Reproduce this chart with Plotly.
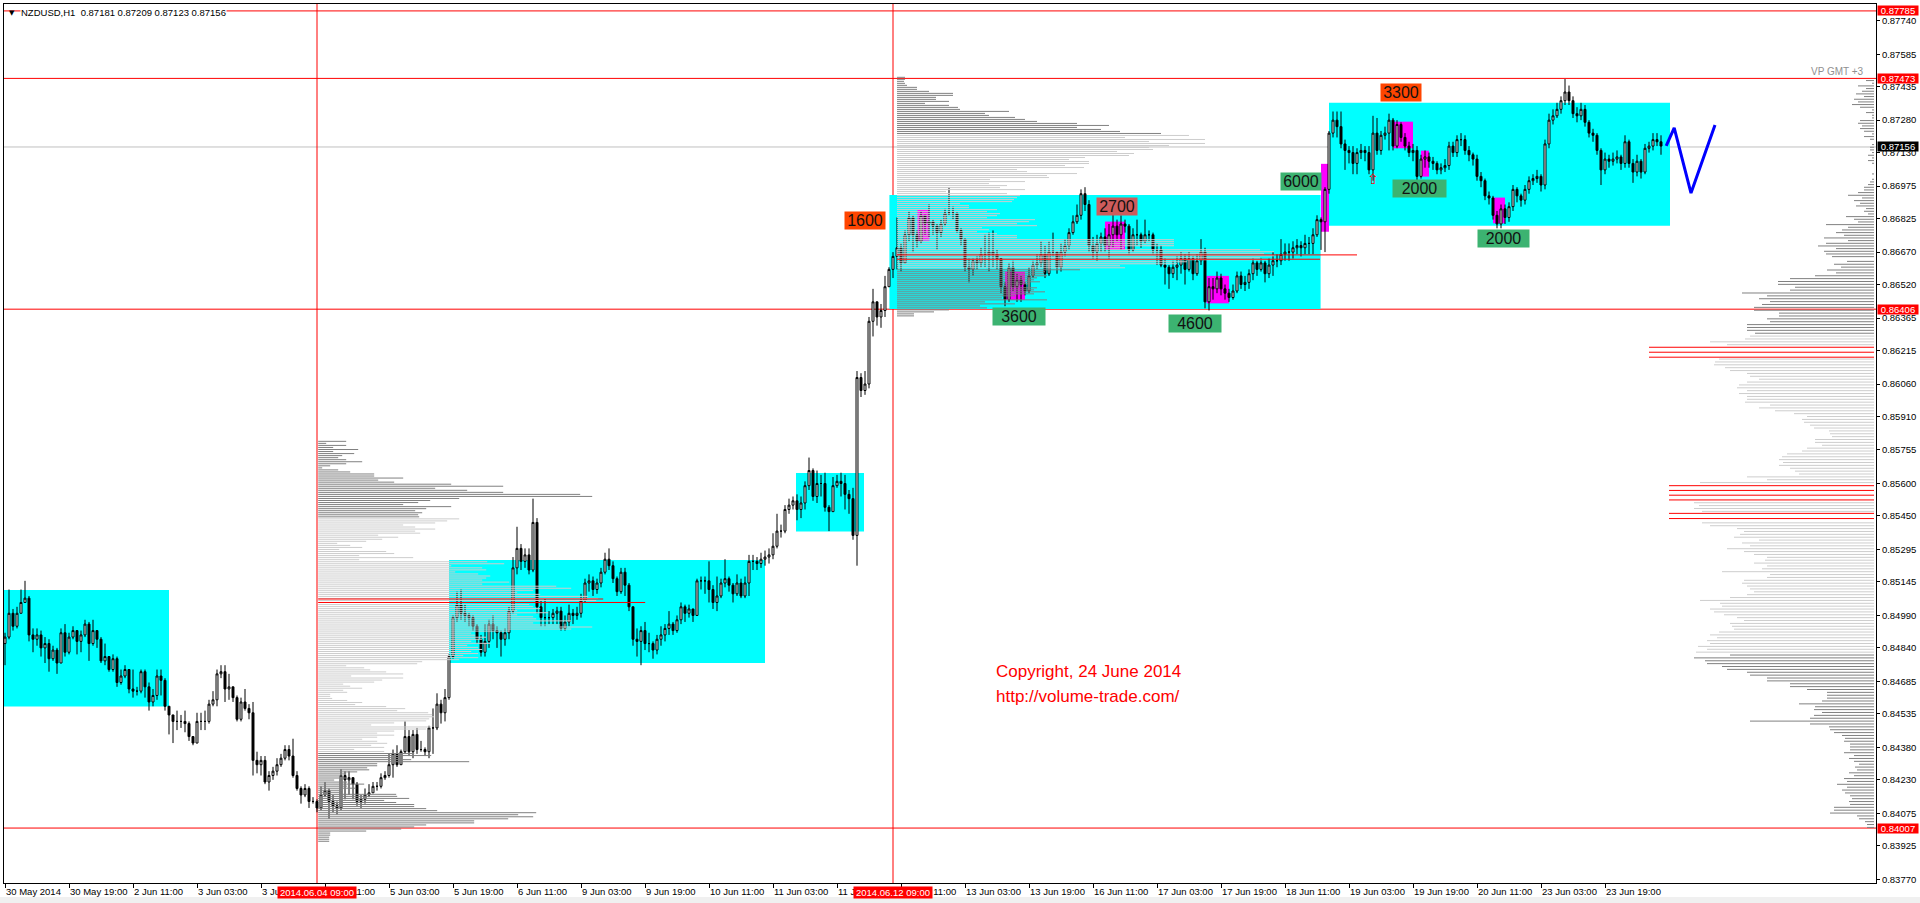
import numpy as np
import plotly.graph_objects as go

# NZDUSD H1 bars, prices in pips (1 pip = 0.0001); open of a bar = close of the previous one
first_open = 8486
close_pips = [
    8489, 8500, 8494, 8500, 8505, 8507, 8490, 8488, 8490, 8484,
    8486, 8479, 8483, 8477, 8491, 8482, 8489, 8492, 8487, 8490,
    8495, 8486, 8492, 8488, 8478, 8480, 8474, 8479, 8468, 8471,
    8474, 8465, 8464, 8464, 8473, 8466, 8459, 8462, 8471, 8469,
    8457, 8453, 8450, 8450, 8450, 8449, 8443, 8440, 8450, 8450,
    8450, 8458, 8460, 8472, 8473, 8465, 8466, 8461, 8451, 8459,
    8456, 8454, 8432, 8430, 8432, 8422, 8425, 8427, 8430, 8433,
    8437, 8434, 8425, 8419, 8416, 8419, 8413, 8413, 8410, 8416,
    8418, 8413, 8411, 8410, 8425, 8423, 8424, 8421, 8413, 8414,
    8416, 8417, 8420, 8420, 8424, 8425, 8430, 8435, 8430, 8436,
    8443, 8436, 8444, 8437, 8437, 8436, 8447, 8447, 8458, 8454,
    8461, 8480, 8498, 8504, 8500, 8499, 8498, 8494, 8488, 8482,
    8487, 8495, 8492, 8491, 8488, 8491, 8501, 8521, 8530, 8524,
    8527, 8520, 8542, 8503, 8498, 8498, 8498, 8500, 8501, 8493,
    8496, 8500, 8499, 8500, 8506, 8514, 8515, 8511, 8514, 8519,
    8525, 8522, 8516, 8510, 8519, 8513, 8503, 8488, 8487, 8492,
    8486, 8486, 8483, 8488, 8490, 8493, 8495, 8492, 8497, 8503,
    8500, 8502, 8499, 8515, 8515, 8515, 8511, 8505, 8508, 8514,
    8516, 8513, 8509, 8514, 8508, 8514, 8524, 8524, 8523, 8525,
    8526, 8527, 8531, 8538, 8538, 8548, 8550, 8552, 8548, 8551,
    8559, 8566, 8554, 8560, 8560, 8549, 8547, 8559, 8561, 8560,
    8555, 8553, 8536, 8609, 8603, 8606, 8635, 8644, 8637, 8640,
    8651, 8659, 8665, 8669, 8662, 8675, 8683, 8675, 8672, 8684,
    8680, 8681, 8679, 8676, 8680, 8685, 8685, 8685, 8677, 8673,
    8660, 8659, 8663, 8662, 8666, 8666, 8667, 8666, 8664, 8651,
    8645, 8660, 8651, 8654, 8652, 8649, 8656, 8661, 8662, 8666,
    8657, 8667, 8667, 8660, 8667, 8670, 8676, 8681, 8684, 8694,
    8689, 8670, 8667, 8671, 8674, 8670, 8675, 8679, 8675, 8680,
    8679, 8668, 8675, 8675, 8672, 8675, 8675, 8668, 8668, 8661,
    8660, 8657, 8660, 8661, 8664, 8659, 8664, 8657, 8663, 8667,
    8644, 8651, 8650, 8655, 8650, 8648, 8646, 8649, 8656, 8652,
    8653, 8657, 8662, 8659, 8662, 8657, 8661, 8663, 8663, 8666,
    8667, 8667, 8669, 8670, 8669, 8671, 8671, 8675, 8682, 8681,
    8696, 8722, 8728, 8725, 8717, 8714, 8713, 8708, 8713, 8714,
    8713, 8705, 8722, 8714, 8721, 8722, 8728, 8716, 8726, 8720,
    8716, 8713, 8714, 8702, 8710, 8711, 8709, 8708, 8705, 8706,
    8707, 8716, 8713, 8719, 8719, 8714, 8712, 8710, 8702, 8700,
    8693, 8692, 8684, 8680, 8687, 8683, 8688, 8696, 8693, 8691,
    8696, 8700, 8701, 8702, 8698, 8717, 8728, 8730, 8733, 8737,
    8741, 8737, 8731, 8730, 8733, 8727, 8722, 8721, 8714, 8705,
    8710, 8709, 8710, 8711, 8708, 8718, 8708, 8704, 8709, 8704,
    8715, 8716, 8719, 8718, 8716,
]
high_pips = [
    8491, 8511, 8502, 8503, 8511, 8515, 8508, 8493, 8493, 8492,
    8489, 8488, 8485, 8484, 8493, 8495, 8491, 8494, 8492, 8492,
    8497, 8496, 8497, 8492, 8489, 8486, 8480, 8481, 8480, 8474,
    8476, 8474, 8474, 8466, 8474, 8474, 8468, 8465, 8474, 8474,
    8470, 8457, 8453, 8455, 8453, 8455, 8450, 8443, 8454, 8454,
    8455, 8460, 8464, 8474, 8476, 8476, 8472, 8466, 8462, 8461,
    8465, 8458, 8459, 8436, 8434, 8434, 8427, 8429, 8433, 8435,
    8439, 8439, 8442, 8427, 8420, 8421, 8420, 8415, 8414, 8420,
    8422, 8419, 8416, 8413, 8428, 8427, 8427, 8424, 8422, 8416,
    8419, 8421, 8422, 8422, 8426, 8427, 8435, 8437, 8439, 8437,
    8450, 8446, 8446, 8447, 8441, 8438, 8448, 8456, 8463, 8460,
    8465, 8481, 8499, 8510, 8511, 8504, 8500, 8499, 8495, 8490,
    8495, 8497, 8499, 8494, 8492, 8493, 8503, 8526, 8540, 8532,
    8530, 8530, 8553, 8544, 8506, 8507, 8501, 8502, 8503, 8503,
    8499, 8504, 8502, 8503, 8509, 8516, 8518, 8517, 8516, 8521,
    8528, 8530, 8524, 8517, 8521, 8521, 8514, 8503, 8493, 8494,
    8496, 8491, 8487, 8490, 8494, 8495, 8501, 8496, 8499, 8505,
    8504, 8504, 8502, 8516, 8517, 8517, 8524, 8513, 8517, 8516,
    8525, 8517, 8514, 8518, 8516, 8517, 8527, 8527, 8526, 8528,
    8529, 8530, 8537, 8546, 8541, 8550, 8553, 8554, 8555, 8554,
    8561, 8572, 8567, 8566, 8564, 8565, 8550, 8563, 8564, 8565,
    8564, 8557, 8558, 8612, 8611, 8612, 8637, 8650, 8644, 8643,
    8656, 8660, 8667, 8683, 8671, 8677, 8686, 8684, 8677, 8686,
    8684, 8689, 8682, 8680, 8682, 8687, 8697, 8688, 8685, 8678,
    8673, 8664, 8664, 8665, 8669, 8675, 8676, 8677, 8668, 8664,
    8653, 8662, 8663, 8657, 8656, 8653, 8660, 8663, 8666, 8672,
    8670, 8672, 8676, 8667, 8671, 8673, 8678, 8684, 8689, 8696,
    8697, 8691, 8674, 8675, 8676, 8678, 8680, 8690, 8682, 8684,
    8682, 8680, 8678, 8682, 8676, 8682, 8677, 8676, 8671, 8670,
    8664, 8661, 8663, 8665, 8667, 8666, 8667, 8665, 8666, 8673,
    8669, 8655, 8655, 8658, 8657, 8652, 8650, 8652, 8658, 8658,
    8656, 8659, 8664, 8663, 8664, 8663, 8664, 8667, 8666, 8673,
    8671, 8671, 8672, 8673, 8672, 8675, 8674, 8678, 8684, 8683,
    8697, 8723, 8732, 8732, 8732, 8719, 8716, 8716, 8715, 8717,
    8716, 8716, 8730, 8729, 8723, 8725, 8731, 8729, 8728, 8727,
    8722, 8718, 8717, 8716, 8712, 8714, 8713, 8711, 8709, 8708,
    8710, 8718, 8718, 8721, 8722, 8721, 8716, 8713, 8712, 8704,
    8701, 8695, 8693, 8686, 8689, 8689, 8690, 8698, 8697, 8694,
    8698, 8702, 8703, 8705, 8703, 8719, 8731, 8733, 8736, 8739,
    8747, 8744, 8739, 8734, 8736, 8735, 8728, 8724, 8722, 8715,
    8713, 8712, 8713, 8714, 8712, 8721, 8719, 8710, 8712, 8710,
    8717, 8718, 8722, 8722, 8721,
]
low_pips = [
    8476, 8488, 8492, 8493, 8500, 8505, 8487, 8482, 8485, 8480,
    8477, 8473, 8478, 8472, 8477, 8480, 8481, 8488, 8481, 8482,
    8489, 8478, 8485, 8484, 8477, 8476, 8473, 8473, 8466, 8467,
    8470, 8463, 8461, 8462, 8463, 8461, 8455, 8457, 8460, 8462,
    8455, 8444, 8440, 8446, 8447, 8445, 8441, 8439, 8440, 8446,
    8446, 8449, 8457, 8457, 8470, 8459, 8460, 8459, 8450, 8450,
    8455, 8451, 8425, 8426, 8425, 8421, 8418, 8423, 8425, 8429,
    8432, 8432, 8424, 8418, 8412, 8415, 8410, 8412, 8408, 8409,
    8415, 8405, 8408, 8407, 8409, 8414, 8416, 8414, 8411, 8410,
    8412, 8415, 8417, 8418, 8419, 8423, 8424, 8424, 8429, 8430,
    8435, 8434, 8433, 8435, 8436, 8434, 8433, 8435, 8446, 8449,
    8450, 8460, 8479, 8496, 8497, 8496, 8494, 8492, 8486, 8480,
    8480, 8484, 8488, 8484, 8480, 8485, 8488, 8500, 8518, 8520,
    8521, 8518, 8519, 8500, 8494, 8494, 8495, 8495, 8495, 8492,
    8492, 8494, 8495, 8497, 8498, 8505, 8510, 8508, 8509, 8512,
    8518, 8520, 8514, 8508, 8509, 8508, 8501, 8485, 8480, 8476,
    8483, 8482, 8479, 8481, 8485, 8487, 8490, 8490, 8491, 8495,
    8496, 8498, 8496, 8499, 8511, 8509, 8505, 8502, 8501, 8507,
    8512, 8510, 8505, 8508, 8507, 8507, 8508, 8520, 8520, 8521,
    8522, 8523, 8525, 8530, 8535, 8537, 8546, 8548, 8543, 8544,
    8548, 8557, 8552, 8551, 8554, 8547, 8538, 8547, 8558, 8554,
    8548, 8546, 8534, 8522, 8600, 8601, 8604, 8628, 8633, 8632,
    8637, 8651, 8655, 8659, 8658, 8662, 8672, 8667, 8669, 8671,
    8675, 8674, 8675, 8668, 8674, 8679, 8684, 8682, 8676, 8670,
    8658, 8653, 8656, 8659, 8660, 8660, 8658, 8660, 8659, 8648,
    8642, 8644, 8649, 8644, 8644, 8647, 8648, 8655, 8659, 8660,
    8655, 8656, 8665, 8657, 8658, 8665, 8668, 8675, 8680, 8682,
    8686, 8667, 8664, 8663, 8667, 8667, 8664, 8669, 8672, 8668,
    8676, 8666, 8667, 8670, 8669, 8671, 8672, 8666, 8661, 8660,
    8652, 8650, 8655, 8654, 8657, 8652, 8658, 8654, 8656, 8661,
    8641, 8640, 8645, 8648, 8647, 8645, 8644, 8645, 8648, 8650,
    8649, 8650, 8654, 8656, 8658, 8653, 8655, 8656, 8660, 8661,
    8663, 8663, 8664, 8666, 8665, 8666, 8666, 8666, 8674, 8668,
    8667, 8694, 8720, 8720, 8715, 8705, 8708, 8703, 8703, 8710,
    8709, 8703, 8700, 8712, 8712, 8719, 8714, 8714, 8715, 8718,
    8714, 8711, 8709, 8700, 8701, 8706, 8706, 8705, 8703, 8703,
    8704, 8705, 8711, 8711, 8716, 8712, 8709, 8707, 8700, 8697,
    8691, 8689, 8682, 8678, 8678, 8680, 8681, 8686, 8690, 8688,
    8689, 8694, 8698, 8699, 8695, 8696, 8715, 8726, 8729, 8731,
    8735, 8735, 8729, 8727, 8728, 8725, 8720, 8718, 8712, 8698,
    8703, 8706, 8707, 8708, 8705, 8706, 8706, 8699, 8702, 8701,
    8703, 8713, 8714, 8716, 8712,
]

# time axis labels, one every 16 bars
time_labels = [
    "30 May 2014", "30 May 19:00", "2 Jun 11:00", "3 Jun 03:00", "3 Jun 19:00",
    "4 Jun 11:00", "5 Jun 03:00", "5 Jun 19:00", "6 Jun 11:00", "9 Jun 03:00",
    "9 Jun 19:00", "10 Jun 11:00", "11 Jun 03:00", "11 Jun 19:00", "12 Jun 11:00",
    "13 Jun 03:00", "13 Jun 19:00", "16 Jun 11:00", "17 Jun 03:00", "17 Jun 19:00",
    "18 Jun 11:00", "19 Jun 03:00", "19 Jun 19:00", "20 Jun 11:00", "23 Jun 03:00",
    "23 Jun 19:00",
]
price_ticks = [
    0.87740, 0.87585, 0.87435, 0.87280, 0.87130, 0.86975, 0.86825, 0.86670, 0.86520,
    0.86365, 0.86215, 0.86060, 0.85910, 0.85755, 0.85600, 0.85450, 0.85295, 0.85145,
    0.84990, 0.84840, 0.84685, 0.84535, 0.84380, 0.84230, 0.84075, 0.83925, 0.83770,
]

# horizontal / vertical levels
red_levels = [0.87785, 0.87473, 0.86406, 0.84007]
bid_price = 0.87156
vline_bars = [78, 222]
vline_labels = ["2014.06.04 09:00", "2014.06.12 09:00"]

# cyan zones: bar from, bar to, price low, price high
zone_bar0 = [-0.25, 111, 197.75, 221.1, 331]
zone_bar1 = [41, 190, 214.75, 328.9, 416.25]
zone_lo = [0.84569, 0.84770, 0.85378, 0.86407, 0.86792]
zone_hi = [0.85108, 0.85246, 0.85649, 0.86934, 0.87361]

# magenta volume spots
spot_bar0 = [228.1, 250, 275, 300.4, 329, 347.1, 354, 372]
spot_bar1 = [231.1, 255, 280, 306, 331, 352, 356, 375]
spot_lo = [0.86723, 0.86449, 0.86680, 0.86433, 0.86764, 0.87150, 0.87019, 0.86803]
spot_hi = [0.86865, 0.86579, 0.86811, 0.86560, 0.87078, 0.87273, 0.87139, 0.86922]

# volume labels
vol_text = ["1600", "2700", "3600", "4600", "6000", "3300", "2000", "2000"]
vol_bar = [215, 278, 253.5, 297.5, 324, 349, 353.6, 374.6]
vol_price = [0.86816, 0.86879, 0.86370, 0.86338, 0.86997, 0.87408, 0.86964, 0.86733]
vol_color = ["#ff4500", "#cd5c5c", "#3cb371", "#3cb371", "#3cb371", "#ff4500", "#3cb371", "#3cb371"]
vol_width = [40, 40, 52, 52, 40, 40, 53, 51]

# forecast zigzag
zig_bar = [415.3, 417.3, 421.5, 427.5]
zig_price = [0.87161, 0.87244, 0.86943, 0.87258]

# volume profiles (line lengths in screen px, top to bottom)
vp_a = [
    28, 8, 28, 15, 40, 15, 36, 24, 20, 28,
    44, 28, 12, 4, 20, 32, 56, 56, 85, 60,
    76, 133, 185, 117, 149, 185, 262, 274, 141, 112,
    100, 85, 133, 108, 97, 104, 100, 101, 141, 129,
    117, 85, 97, 117, 97, 102, 60, 80, 64, 48,
    19, 32, 44, 21, 68, 76, 41, 95, 41, 169,
    186, 133, 164, 168, 137, 160, 172, 168, 164, 191,
    164, 238, 253, 215, 199, 222, 270, 280, 278, 199,
    211, 215, 222, 199, 230, 199, 215, 218, 253, 215,
    242, 274, 253, 191, 153, 157, 168, 164, 153, 172,
    149, 160, 164, 153, 160, 145, 160, 141, 104, 99,
    28, 46, 52, 68, 85, 33, 85, 64, 56, 25,
    32, 44, 25, 29, 12, 12, 14, 29, 44, 37,
    68, 87, 79, 110, 114, 116,
    111, 108, 76, 53, 113, 108, 76, 59, 76, 59,
    44, 59, 69, 53, 66, 36, 66, 96, 113, 83,
    93, 151, 59, 59, 49, 51, 39, 28, 24, 28,
    16, 29, 46, 29, 38, 24, 23, 78, 79, 91,
    66, 78, 96, 96, 108, 119, 218, 200, 215, 190,
    156, 156, 108, 96, 83, 48, 12, 12, 11, 11, 11,
]
vp_b = [
    8, 8, 7, 8, 10, 20, 20, 32, 56, 56,
    39, 39, 52, 28, 52, 61, 63, 112, 88, 92,
    118, 128, 140, 180, 212, 180, 204, 223, 264,
    292, 228, 308, 252, 308, 272, 252, 256, 220, 237,
    232, 188, 172, 192, 192, 168, 187, 120, 130, 180,
    150, 152, 93, 128, 92, 110, 103, 128, 49, 110,
    123, 120, 117, 115, 63, 72, 72, 100, 90, 103,
    100, 90, 138, 132, 120, 140, 85, 92, 80, 100,
    120, 120, 277, 277, 277, 277, 227, 363, 377, 367,
    377, 363, 370, 290, 280, 223, 228,
    183, 148, 147, 150, 140, 137, 143, 133, 123, 140,
    137, 148, 137, 118, 105, 150, 88, 118, 83, 90,
    52, 37, 17, 17,
]
vp_c_top = [
    8, 2, 16, 8, 12, 18, 10, 20, 16, 22,
    14, 2, 8, 2, 2, 14, 16, 12, 14, 10,
    2, 10, 4, 0, 2, 4, 4, 2, 6, 2,
    6, 2, 0, 0, 0, 2, 0, 2, 4, 6,
    10, 10, 16, 26, 12, 20, 14, 18, 8, 10,
    6, 28, 20, 16, 48, 26, 32, 38, 30, 50,
    26, 48, 56, 38, 50, 48, 42,
]
vp_c = [
    27, 40, 33, 47, 38, 59, 84, 96, 96, 79,
    84, 132, 107, 115, 104, 112, 120, 120, 95, 95,
    107, 104, 127, 127, 127, 119, 124, 129, 164, 147,
    0, 0, 0, 0, 155, 159, 160, 149, 144, 127,
    124, 115, 127, 135, 137, 127, 135, 127, 127, 129,
    104, 115, 99, 80, 67, 72, 70, 64, 60, 45,
    44, 42, 59, 59, 52, 67, 72, 87, 92, 95,
    91, 95, 84, 79, 75, 127, 107, 174, 0, 0,
    0, 0, 0, 0, 180, 175, 180, 172, 0, 0,
    0, 172, 164, 137, 130, 134, 140, 115, 132, 124,
    147, 130, 120, 107, 109, 120, 107, 112, 152, 104,
    107, 130, 132, 127, 124, 120, 127, 144, 174, 154,
    152, 164, 160, 150, 137, 130, 144, 142, 140, 155,
    164, 157, 167, 164, 176, 167, 178, 144, 180, 169,
    167, 152, 147, 127, 124, 107, 107, 84, 84, 67,
    47, 47, 47, 52, 75, 59, 60, 52, 60, 64,
    124, 64, 45, 44, 40, 32, 29, 30, 24, 24,
    24, 30, 20, 25, 20, 15, 19, 17, 25, 20,
    30, 27, 37, 27, 32, 29, 24, 22, 25, 24,
    40, 40, 44, 17, 15, 9, 7, 7,
]
# high-volume (red) profile lines: price, length px
poc_a_price = [0.85066, 0.85050]
poc_a_len = [285, 327]
poc_b_price = [0.86657, 0.86637]
poc_b_len = [460, 423]
poc_c_price = [0.86230, 0.86207, 0.86184,
               0.85590, 0.85568, 0.85546, 0.85524,
               0.85462, 0.85438]
poc_c_len = [225, 225, 225,
             205, 205, 205, 205,
             205, 205]

PX_PER_BAR = 4.0
DARK = "#808080"
LIGHT = "#cdcdcd"
RED = "#ff0000"
FONT = "Liberation Sans, Arial, sans-serif"

fig = go.Figure()


def add_profile(lengths, top, bottom, x0, sign, va_hi, va_lo):
    prices = np.linspace(top, bottom, len(lengths))
    segs = {DARK: ([], []), LIGHT: ([], [])}
    for p, v in zip(prices, lengths):
        if v <= 0:
            continue
        col = LIGHT if va_lo <= p <= va_hi else DARK
        xs, ys = segs[col]
        xs += [x0, x0 + sign * v / PX_PER_BAR, None]
        ys += [p, p, None]
    for col, (xs, ys) in segs.items():
        fig.add_trace(go.Scatter(x=xs, y=ys, mode="lines", line=dict(color=col, width=1),
                                 hoverinfo="skip", showlegend=False))


def add_red_lines(prices, lengths, x0, sign):
    xs, ys = [], []
    for p, v in zip(prices, lengths):
        xs += [x0, x0 + sign * v / PX_PER_BAR, None]
        ys += [p, p, None]
    fig.add_trace(go.Scatter(x=xs, y=ys, mode="lines", line=dict(color=RED, width=1),
                             hoverinfo="skip", showlegend=False))


# volume profiles
add_profile(vp_a, 0.85795, 0.83946, 78.3, 1, 0.85441, 0.84357)
add_profile(vp_b, 0.87478, 0.86375, 223, 1, 0.87213, 0.86592)
add_profile(vp_c_top, 0.87463, 0.86649, 467.25, -1, 0.0, 0.0)
add_profile(vp_c, 0.86627, 0.84010, 467.25, -1, 0.86289, 0.84815)
add_red_lines(poc_a_price, poc_a_len, 78.3, 1)
add_red_lines(poc_b_price, poc_b_len, 223, 1)
add_red_lines(poc_c_price, poc_c_len, 467.25, -1)

# candles
bars = list(range(len(close_pips)))
open_pips = [first_open] + close_pips[:-1]
o = [v / 1e4 for v in open_pips]
c = [v / 1e4 for v in close_pips]
h = [max(a, b, d) / 1e4 for a, b, d in zip(high_pips, open_pips, close_pips)]
l = [min(a, b, d) / 1e4 for a, b, d in zip(low_pips, open_pips, close_pips)]
fig.add_trace(go.Candlestick(
    x=bars, open=o, high=h, low=l, close=c,
    increasing=dict(line=dict(color="black", width=1), fillcolor="white"),
    decreasing=dict(line=dict(color="black", width=1), fillcolor="black"),
    whiskerwidth=0, hoverinfo="skip", showlegend=False,
))

# forecast line
fig.add_trace(go.Scatter(x=zig_bar, y=zig_price, mode="lines",
                         line=dict(color="#0000ff", width=3), hoverinfo="skip", showlegend=False))

shapes = []
for b0, b1, lo, hi in zip(zone_bar0, zone_bar1, zone_lo, zone_hi):
    shapes.append(dict(type="rect", xref="x", yref="y", x0=b0, x1=b1, y0=lo, y1=hi,
                       fillcolor="#00ffff", line=dict(width=0), layer="below"))
for b0, b1, lo, hi in zip(spot_bar0, spot_bar1, spot_lo, spot_hi):
    shapes.append(dict(type="rect", xref="x", yref="y", x0=b0, x1=b1, y0=lo, y1=hi,
                       fillcolor="#ff00ff", line=dict(width=0), layer="below"))
shapes.append(dict(type="line", xref="paper", yref="y", x0=0, x1=1, y0=bid_price, y1=bid_price,
                   line=dict(color="#c0c0c0", width=1), layer="below"))
for lv in red_levels:
    shapes.append(dict(type="line", xref="paper", yref="y", x0=0, x1=1, y0=lv, y1=lv,
                       line=dict(color=RED, width=1), layer="below"))
for vb in vline_bars:
    shapes.append(dict(type="line", xref="x", yref="paper", x0=vb, x1=vb, y0=0, y1=1,
                       line=dict(color=RED, width=1), layer="below"))
# window strip under the time scale
shapes.append(dict(type="rect", xref="paper", yref="paper", x0=-0.01, x1=1.03, y0=-0.03, y1=-0.0159,
                   fillcolor="#f0f0f0", line=dict(width=0), layer="below"))

ann = []
for t, xb, yp, col, w in zip(vol_text, vol_bar, vol_price, vol_color, vol_width):
    ann.append(dict(x=xb, y=yp, xref="x", yref="y", text=t, showarrow=False, bgcolor=col,
                    width=w, height=17, borderpad=0, font=dict(family=FONT, size=16, color="#111111")))
for lv in red_levels:
    ann.append(dict(x=1, y=lv, xref="paper", yref="y", xanchor="left", xshift=1, text=f"{lv:.5f}",
                    showarrow=False, bgcolor=RED, width=40, height=9, borderpad=0,
                    font=dict(family=FONT, size=9.5, color="white")))
ann.append(dict(x=1, y=bid_price, xref="paper", yref="y", xanchor="left", xshift=1, text=f"{bid_price:.5f}",
                showarrow=False, bgcolor="black", width=40, height=9, borderpad=0,
                font=dict(family=FONT, size=9.5, color="white")))
for vb, txt in zip(vline_bars, vline_labels):
    ann.append(dict(x=vb, y=-0.0108, xref="x", yref="paper", yanchor="middle", text=txt,
                    showarrow=False, bgcolor=RED, width=78, height=11, borderpad=0,
                    font=dict(family=FONT, size=9.5, color="white")))
ann.append(dict(x=342, y=0.87010, xref="x", yref="y", text="\u21e7", showarrow=False,
                font=dict(family="DejaVu Sans", size=14, color=RED)))
ann.append(dict(x=0.5791, y=0.2405, xref="paper", yref="paper", xanchor="center", yanchor="middle",
                text="Copyright, 24 June 2014",
                showarrow=False, font=dict(family=FONT, size=17, color=RED)))
ann.append(dict(x=0.5791, y=0.2119, xref="paper", yref="paper", xanchor="center", yanchor="middle",
                text="http://volume-trade.com/",
                showarrow=False, font=dict(family=FONT, size=17, color=RED)))
ann.append(dict(x=0.99466, y=0.92264, xref="paper", yref="paper", xanchor="right", yanchor="middle",
                text="VP GMT +3", showarrow=False, font=dict(family=FONT, size=10, color="#909090")))
ann.append(dict(x=0.0043, y=0.9903, xref="paper", yref="paper", xanchor="center", yanchor="middle",
                text="\u25bc", showarrow=False, font=dict(family="DejaVu Sans", size=7, color="black")))
ann.append(dict(x=0.0085, y=0.9903, xref="paper", yref="paper", xanchor="left", yanchor="middle",
                bgcolor="white", borderpad=0, showarrow=False,
                text="NZDUSD,H1\u00a0\u00a00.87181 0.87209 0.87123 0.87156",
                font=dict(family=FONT, size=9.5, color="black")))

fig.update_layout(
    width=1920, height=903,
    margin=dict(l=4, r=44, t=4, b=20),
    paper_bgcolor="white", plot_bgcolor="white",
    showlegend=False, hovermode=False,
    font=dict(family=FONT, size=9.5, color="black"),
    shapes=shapes, annotations=ann,
    xaxis=dict(
        range=[-0.25, 467.75], tickmode="array",
        tickvals=[16 * i for i in range(len(time_labels))], ticktext=time_labels,
        ticks="outside", ticklen=4, tickcolor="black", ticklabelposition="outside right",
        tickangle=0, automargin=False,
        showgrid=False, zeroline=False, showline=True, linecolor="black", mirror=True,
        rangeslider=dict(visible=False), tickfont=dict(size=9.5),
    ),
    yaxis=dict(
        range=[0.83753, 0.87817], side="right", tickmode="array",
        tickvals=price_ticks, ticktext=[f"{v:.5f}" for v in price_ticks],
        ticks="outside", ticklen=3, tickcolor="black", automargin=False,
        showgrid=False, zeroline=False, showline=True, linecolor="black", mirror=True,
        tickfont=dict(size=9.5),
    ),
)

fig.write_html("out.html", config={"displayModeBar": False},
               post_script="document.body.style.margin='0px';")
